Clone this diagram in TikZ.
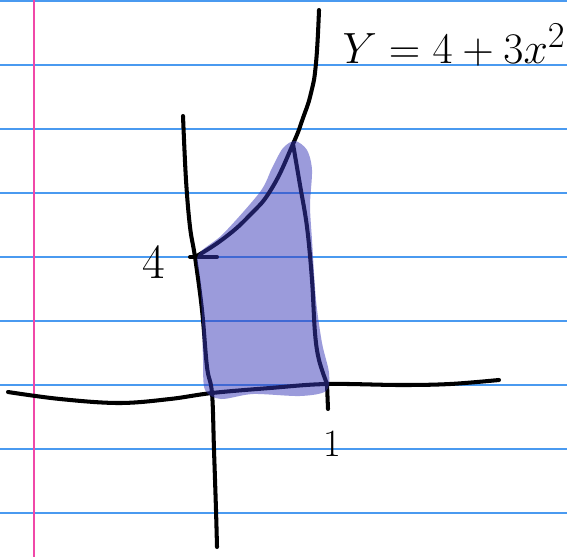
\documentclass[tikz,border=0pt]{standalone}
\usepackage{tikz}
\usetikzlibrary{positioning,calc}
\usepackage{xcolor}
\definecolor{RuleBlue}{HTML}{4A9AF0}
\definecolor{MarginPink}{HTML}{F048A8}
\definecolor{Shade}{RGB}{56,56,184}

\begin{document}
\begin{tikzpicture}[x=0.02cm,y=-0.02cm,
  ink/.style={line width=2.3pt,line cap=round,line join=round,black},
  rule/.style={line width=1.1pt,RuleBlue},
  shade/.style={fill=Shade,fill opacity=0.5,draw=none},
  hand/.style={inner sep=0pt,font=\fontsize{28}{30}\selectfont}]
  \useasboundingbox[fill=white] (0,0) rectangle (567,557);
  \foreach \yy in {1,65,...,513}
    \draw[rule] (0,\yy) -- (567,\yy);
  \draw[line width=1.3pt,MarginPink] (34,0) -- (34,557);
  \coordinate (origin) at (212,393);
  \coordinate (four) at (195,257);
  \coordinate (one) at (327,384);
  \coordinate (corner) at (293,144);
  \draw[ink] plot[smooth,tension=0.6] coordinates
    {(183,116) (186,180) (190,227) (four) (202,310) (207,367) (origin) (214,450) (216,510) (217,547)};
  \draw[ink] plot[smooth,tension=0.6] coordinates
    {(8,392) (60,399) (119,403) (170,399) (origin) (270,388) (one) (400,385) (450,384) (499,380)};
  \draw[ink] plot[smooth,tension=0.8] coordinates
    {(four) (223,239) (250,215) (272,188) (corner) (303,118) (311,93) (316,63) (319,10)};
  \draw[ink] plot[smooth,tension=0.6] coordinates
    {(corner) (300,185) (307,227) (312,280) (315,333) (319,360) (one)};
  \draw[ink] (190,257) -- (217,257);
  \draw[ink] (one) -- (328,409);
  \fill[shade] plot[smooth cycle,tension=0.5] coordinates
    {(198,255) (223,234) (260,192) (272,168) (283,148) (295,141) (307,150) (312,170)
     (310,205) (312,240) (316,300) (322,343) (329,373) (326,391) (300,396) (253,394)
     (221,399) (205,390) (203,360) (202,317) (200,280)};
  \node[hand] (fourlabel) at (154,262) {4};
  \node[hand,font=\fontsize{22}{24}\selectfont] (onelabel) at (332,444) {1};
  \node[hand] (curvelabel) at (454,45) {$Y = 4+3x^2$};
\end{tikzpicture}
\end{document}
